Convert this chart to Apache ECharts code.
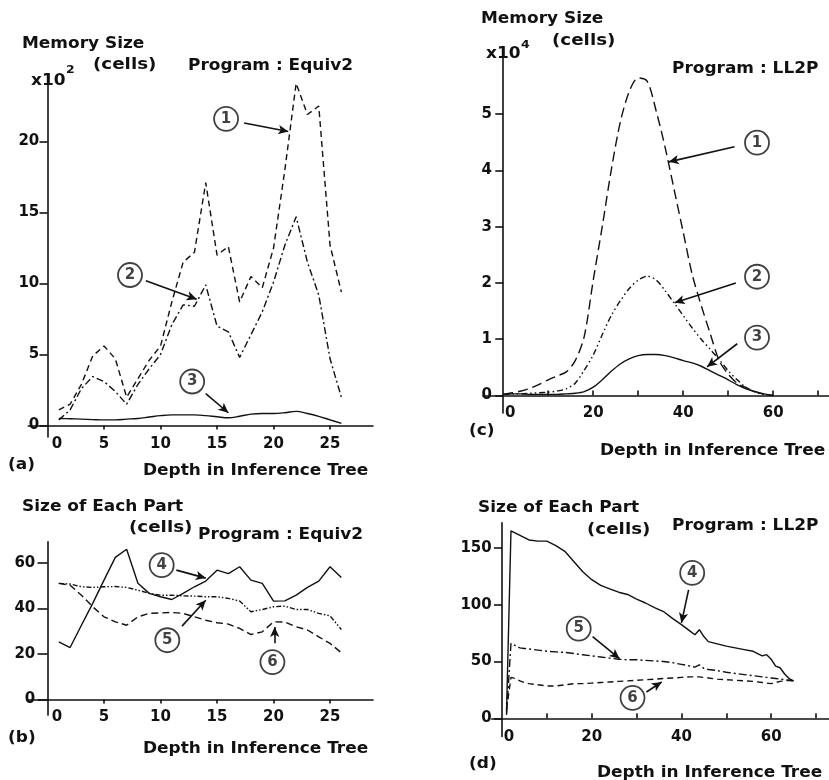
<!DOCTYPE html>
<html>
<head>
<meta charset="utf-8">
<script src="https://cdn.jsdelivr.net/npm/echarts@6/dist/echarts.min.js"></script>
<style>
html,body{margin:0;padding:0;background:#fff;}
#chart{width:829px;height:780px;}
</style>
</head>
<body>
<div id="chart"></div>
<script>
// ---------- DATA ----------
// Panel (a): Equiv2 memory size (x10^2 cells) vs depth
const a_depth = [1,2,3,4,5,6,7,8,9,10,11,12,13,14,15,16,17,18,19,20,21,22,23,24,25,26];
const a_s1 = [1.1,1.5,2.9,4.9,5.6,4.7,2.0,3.3,4.6,5.6,8.7,11.5,12.2,17.1,12.0,12.6,8.7,10.5,9.7,12.5,18.0,24.1,21.9,22.5,12.7,9.4];
const a_s2 = [0.4,1.1,2.6,3.45,3.1,2.4,1.5,2.9,4.0,5.0,7.1,8.5,8.4,9.9,7.0,6.6,4.8,6.4,8.0,10.1,12.7,14.7,11.5,9.2,4.7,2.0];
const a_s3 = [0.5,0.48,0.45,0.42,0.4,0.4,0.45,0.5,0.6,0.7,0.75,0.75,0.75,0.7,0.62,0.55,0.65,0.8,0.85,0.85,0.9,1.0,0.85,0.65,0.4,0.15];

// Panel (b): Equiv2 size of each part (cells)
const b_depth = a_depth;
const b_s4 = [25.3,22.8,32.6,42.2,52.4,62.4,66,51,46.6,45.1,43.9,46.6,49.5,52,56.8,55.3,58.3,52.4,51,43.2,43.3,45.8,49.2,52,58.3,53.6];
const b_s5 = [51,50.7,49.5,49.2,49.5,49.6,49.2,48,46.6,45.8,45.8,45.5,45.4,45.1,45.1,44.4,43.2,38.5,39.5,40.7,41,39.5,39.5,37.8,36.7,30.7];
const b_s6 = [51,50.2,45.8,40.7,36.3,34.1,32.6,36.3,37.8,38,38.2,37.8,36.3,34.8,33.7,33.1,31.2,28.5,29.7,34.1,34,31.9,30.5,27.5,24.6,20.5];

// Panel (c): LL2P memory size (x10^4 cells)
const c_depth = [0,2,4,6,8,10,12,14,16,18,20,22,24,26,28,30,32,34,36,38,40,42,44,46,48,50,52,54,56,58,60];
const c_s1 = [0.02,0.05,0.08,0.13,0.2,0.28,0.35,0.42,0.62,1.05,2.05,3.0,4.0,4.85,5.4,5.64,5.58,5.05,4.4,3.65,2.9,2.15,1.6,1.1,0.62,0.38,0.22,0.14,0.07,0.02,0.0];
const c_s2 = [0.02,0.03,0.03,0.04,0.05,0.06,0.08,0.12,0.22,0.45,0.72,1.08,1.42,1.68,1.9,2.05,2.12,2.05,1.86,1.64,1.42,1.2,1.0,0.82,0.64,0.44,0.28,0.14,0.06,0.02,0.0];
const c_s3 = [0.02,0.03,0.03,0.02,0.02,0.02,0.02,0.03,0.04,0.07,0.15,0.28,0.43,0.56,0.65,0.71,0.73,0.73,0.71,0.67,0.62,0.58,0.52,0.44,0.36,0.28,0.19,0.12,0.07,0.03,0.0];

// Panel (d): LL2P size of each part (cells)
const d_depth = [1,2,3,4,5,6,8,10,12,14,16,18,20,22,24,26,28,30,32,34,36,38,40,42,43,44,45,46,48,50,52,54,56,58,59,60,61,62,63,64,65];
const d_s4 = [5,165,163,161,159,157,156,156,152,147,138,129,122,117,114,111,109,105,101.5,97.5,94,88,82.5,76.5,73.5,78,72,67.5,65.5,63.5,62,60.5,59,55,56,52,46,44.5,39,35,33];
const d_s5 = [3,66,64,62,61.5,61,60,59,58.5,58,57,56,55,54,53,52,51.5,51.5,51,50.5,50,49,47.5,46,45,47,44,43,42,40.5,39.5,38.5,37.5,36.5,36,35.5,35,34.5,34,33.5,33];
const d_s6 = [8,36,35,33,31.5,30.5,29.5,28.5,28.5,29.5,30.5,30.5,31,31.5,32,32.5,33,33.5,34,34.5,35,35.5,36,36.5,36.5,36.5,36,35.5,34.5,34,33.5,33,32.5,31.5,31,30.5,31.5,32.5,33,33.5,33];

// Tick labels
const a_xLabels = [0,5,10,15,20,25];
const a_xTicks = [5,10,15,20,25];
const a_yLabels = [0,5,10,15,20];
const b_yLabels = [0,20,40,60];
const c_xLabels = [0,20,40,60];
const c_xTicks = [10,20,30,40,50,60,70];
const c_yLabels = [0,1,2,3,4,5];
const d_yLabels = [0,50,100,150];

// Annotations: circled number, circle centre, arrow start, arrow end (data units)
const a_notes = [['1',[15.8,21.6],[17.4,21.3],[21.3,20.7]],['2',[7.3,10.6],[8.7,10.2],[13.2,8.9]],['3',[12.8,3.1],[14.0,2.25],[16.0,0.9]]];
const c_notes = [['1',[56.4,4.49],[51.4,4.42],[36.8,4.15]],['2',[56.4,2.11],[51.7,2.0],[38.1,1.65]],['3',[56.4,1.03],[52,0.92],[45.3,0.51]]];
const b_notes = [['4',[10.1,59],[11.4,56.8],[14.0,53.3]],['5',[10.6,26],[11.9,32.2],[14.0,43.6]],['6',[19.9,16.4],[20.1,24.7],[20.1,31.8]]];
const d_notes = [['4',[42.4,128],[41.6,113],[40,84]],['5',[17.1,79],[20.2,72],[26.2,52.5]],['6',[29.1,18],[32.2,23.2],[35.6,32]]];

// ---------- CHART ----------
const FONT = '"DejaVu Sans", "Liberation Sans", sans-serif';
const BLACK = '#111';
const zip = (xs, ys) => xs.map((x, i) => [x, ys[i]]);

function xAxis(gi, min, max, ticks, labels, inside, tickLen, margin, zeroPad) {
  return {
    type: 'value', gridIndex: gi, min: min, max: max,
    splitLine: {show: false},
    axisLine: {show: true, onZero: true, lineStyle: {color: BLACK, width: 1.6}},
    axisTick: {show: true, inside: inside, length: tickLen, customValues: ticks, lineStyle: {color: BLACK, width: 1.6}},
    axisLabel: {
      customValues: labels, margin: margin, color: BLACK,
      fontFamily: FONT, fontWeight: 'bold', fontSize: 15,
      formatter: v => v === 0 ? '{z|0}' : String(v),
      rich: {z: {padding: [0, 0, 0, zeroPad], fontFamily: FONT, fontWeight: 'bold', fontSize: 15, color: BLACK}}
    }
  };
}
function yAxis(gi, min, max, labels, tickLen, margin) {
  return {
    type: 'value', gridIndex: gi, min: min, max: max,
    splitLine: {show: false},
    axisLine: {show: true, onZero: true, lineStyle: {color: BLACK, width: 1.6}},
    axisTick: {show: true, inside: false, length: tickLen, customValues: labels, lineStyle: {color: BLACK, width: 1.6}},
    axisLabel: {customValues: labels, margin: margin, color: BLACK, fontFamily: FONT, fontWeight: 'bold', fontSize: 15}
  };
}
function line(gi, xs, ys, dash, smooth) {
  return {
    type: 'line', xAxisIndex: gi, yAxisIndex: gi, data: zip(xs, ys),
    showSymbol: false, symbol: 'none', smooth: smooth || false,
    lineStyle: {color: BLACK, width: 1.4, type: dash}, z: 3
  };
}
function notes(gi, list) {
  return {
    type: 'scatter', xAxisIndex: gi, yAxisIndex: gi,
    data: list.map(n => ({value: n[1], name: n[0]})),
    symbol: 'circle', symbolSize: 24,
    itemStyle: {color: '#fff', borderColor: BLACK, borderWidth: 1.8},
    label: {show: true, position: 'inside', formatter: p => p.name, color: BLACK, fontFamily: FONT, fontWeight: 'bold', fontSize: 15},
    z: 5,
    markLine: {
      silent: true, animation: false, symbol: ['none', 'arrow'], symbolSize: [7, 10],
      label: {show: false},
      lineStyle: {color: BLACK, width: 1.6, type: 'solid'},
      data: list.map(n => [{coord: n[2]}, {coord: n[3]}])
    }
  };
}
function txt(x, y, s, size, sx) {
  size = size || 15;
  return {type: 'text', left: x, top: y - size * 0.42, scaleX: sx || 1.13,
          style: {text: s, fill: BLACK, font: 'bold ' + size + 'px ' + FONT}};
}

const option = {
  backgroundColor: '#fff',
  animation: false,
  grid: [
    {left: 28.3, top: 83.3, width: 344.7, height: 353.6},   // (a)
    {left: 483, top: 57.7, width: 346, height: 355.3},      // (c)
    {left: 28.3, top: 541.7, width: 344.7, height: 173.4},  // (b)
    {left: 491.7, top: 522.9, width: 338.4, height: 213.6}  // (d)
  ],
  xAxis: [
    xAxis(0, -1.7, 28.8, a_xTicks, a_xLabels, false, 4, 0, 19),
    xAxis(1, -4.5, 72.4, c_xTicks, c_xLabels, true, 5, -7, 14),
    xAxis(2, -1.7, 28.8, a_xTicks, a_xLabels, false, 4, -5, 19),
    xAxis(3, -2.3, 72.9, c_xTicks, c_xLabels, true, 5, -7, 14)
  ],
  yAxis: [
    yAxis(0, -0.8, 24.1, a_yLabels, 8, -11),
    yAxis(1, -0.31, 6, c_yLabels, 8, -9),
    yAxis(2, -6.9, 69.3, b_yLabels, 10, -7),
    yAxis(3, -16, 172, d_yLabels, 8, 0)
  ],
  series: [
    line(0, a_depth, a_s1, [6, 4]),
    line(0, a_depth, a_s2, [7, 3, 2, 3]),
    line(0, a_depth, a_s3, 'solid', 0.4),
    notes(0, a_notes),
    line(1, c_depth, c_s1, [10, 5], 0.3),
    line(1, c_depth, c_s2, [6, 3, 1.5, 3, 1.5, 3], 0.3),
    line(1, c_depth, c_s3, 'solid', 0.3),
    notes(1, c_notes),
    line(2, b_depth, b_s4, 'solid'),
    line(2, b_depth, b_s5, [5, 2, 1.5, 2, 1.5, 2]),
    line(2, b_depth, b_s6, [7, 4]),
    notes(2, b_notes),
    line(3, d_depth, d_s4, 'solid'),
    line(3, d_depth, d_s5, [8, 3, 2, 3]),
    line(3, d_depth, d_s6, [6, 4]),
    notes(3, d_notes)
  ],
  graphic: [
    // (a)
    txt(22, 43, 'Memory Size'),
    txt(93, 64, '(cells)', 15, 1.22),
    txt(188, 65, 'Program : Equiv2'),
    txt(31, 80, 'x10'),
    txt(66, 69, '2', 11),
    txt(8, 464, '(a)'),
    txt(143, 470, 'Depth in Inference Tree'),
    // (c)
    txt(481, 18, 'Memory Size'),
    txt(552, 40, '(cells)', 15, 1.22),
    txt(486, 53, 'x10'),
    txt(521, 44, '4', 11),
    txt(672, 68, 'Program : LL2P'),
    txt(469, 430, '(c)'),
    txt(600, 450, 'Depth in Inference Tree'),
    // (b)
    txt(22, 506, 'Size of Each Part'),
    txt(129, 527, '(cells)', 15, 1.22),
    txt(198, 534, 'Program : Equiv2'),
    txt(8, 737, '(b)'),
    txt(143, 748, 'Depth in Inference Tree'),
    // (d)
    txt(478, 507, 'Size of Each Part'),
    txt(587, 529, '(cells)', 15, 1.22),
    txt(672, 525, 'Program : LL2P'),
    txt(469, 763, '(d)'),
    txt(597, 772, 'Depth in Inference Tree')
  ]
};

const chart = echarts.init(document.getElementById('chart'), null, {renderer: 'canvas'});
chart.setOption(option);
</script>
</body>
</html>
